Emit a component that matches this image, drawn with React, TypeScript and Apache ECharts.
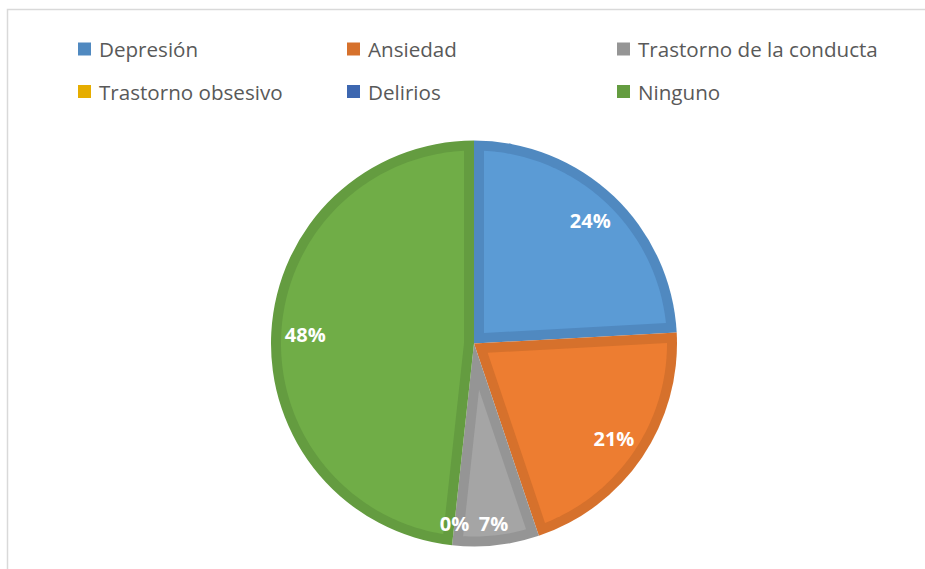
import React, { useEffect, useRef } from 'react';
import * as echarts from 'echarts';

// ---- data ----
const categories = ['Depresión', 'Ansiedad', 'Trastorno de la conducta', 'Trastorno obsesivo', 'Delirios', 'Ninguno'];
const counts = [7, 6, 2, 0, 0, 14];
const fillColors = ['#5B9BD5', '#ED7D31', '#A5A5A5', '#FFC000', '#4472C4', '#70AD47'];
const borderColors = ['#5089C0', '#D6712C', '#959595', '#E6AD00', '#3D67B0', '#649C40'];
// which slices carry a visible label, and which labels sit further out
const labelShown = [true, true, true, true, false, true];
const outerLabelNames = ['Trastorno de la conducta', 'Trastorno obsesivo'];

// ---- layout ----
const CX = 474;
const CY = 343.5;
const R = 203;
const BORDER = 10;
const legendCols = [78, 347, 617];
const legendRows = [38.5, 81];
const FONT = '"Open Sans", "Noto Sans", sans-serif';

export default function App() {
  const ref = useRef<HTMLDivElement>(null);

  useEffect(() => {
    if (!ref.current) return;
    const chart = echarts.init(ref.current, undefined, { renderer: 'svg' });
    const total = counts.reduce((a, b) => a + b, 0);

    let cum = 0;
    const customData = counts.map((v, i) => {
      const start = cum;
      cum += v;
      return { name: categories[i], value: [start, start + v] };
    });

    const legends = categories.map((name, i) => ({
      show: true,
      left: legendCols[i % 3],
      top: legendRows[Math.floor(i / 3)],
      padding: 0,
      itemWidth: 13,
      itemHeight: 13,
      selectedMode: false,
      data: [{ name, icon: 'rect', itemStyle: { color: borderColors[i] } }],
      textStyle: { fontSize: 20.6, color: '#595959', fontFamily: FONT, padding: [0, 0, 0, 3] },
    }));

    const labelStyle = {
      position: 'inside',
      rotate: 0,
      color: '#ffffff',
      fontSize: 20,
      fontWeight: 'bold',
      fontFamily: FONT,
      formatter: (p: any) => Math.round(p.percent) + '%',
    };

    const labelSeries = (inner: number, outer: boolean) => ({
      type: 'pie',
      center: [CX, CY],
      radius: [inner, R],
      startAngle: 90,
      clockwise: true,
      avoidLabelOverlap: false,
      silent: true,
      z: 5,
      itemStyle: { color: 'rgba(0,0,0,0)' },
      emphasis: { disabled: true },
      labelLine: { show: false },
      label: labelStyle,
      data: categories.map((name, i) => ({
        name,
        value: counts[i],
        label: { show: labelShown[i] && outerLabelNames.includes(name) === outer },
      })),
    });

    chart.setOption({
      animation: false,
      backgroundColor: '#ffffff',
      legend: legends,
      polar: { center: [CX, CY], radius: R },
      angleAxis: { type: 'value', min: 0, max: total, startAngle: 90, clockwise: true, show: false },
      radiusAxis: { type: 'value', min: 0, max: R, show: false },
      graphic: [
        {
          type: 'rect',
          silent: true,
          shape: { x: 7.5, y: 9.5, width: 1000, height: 1000 },
          style: { fill: 'none', stroke: '#d9d9d9', lineWidth: 1.5 },
        },
      ],
      series: [
        {
          type: 'pie',
          name: 'base',
          center: [CX, CY],
          radius: [0, R],
          startAngle: 90,
          clockwise: true,
          silent: true,
          z: 1,
          label: { show: false },
          labelLine: { show: false },
          emphasis: { disabled: true },
          data: categories.map((name, i) => ({ name, value: counts[i], itemStyle: { color: borderColors[i] } })),
        },
        {
          type: 'custom',
          name: 'fill',
          coordinateSystem: 'polar',
          silent: true,
          z: 2,
          data: customData,
          renderItem: (params: any, api: any) => {
            const a0 = api.value(0) as number;
            const a1 = api.value(1) as number;
            if (!(a1 > a0)) return { type: 'group', children: [] };
            const c = api.coord([0, 0]);
            const q0 = api.coord([R, a0]);
            const q1 = api.coord([R, a1]);
            const rPx = Math.hypot(q0[0] - c[0], q0[1] - c[1]);
            const t0 = Math.atan2(q0[1] - c[1], q0[0] - c[0]);
            let t1 = Math.atan2(q1[1] - c[1], q1[0] - c[0]);
            while (t1 <= t0 + 1e-9) t1 += Math.PI * 2;
            const alpha = Math.min((t1 - t0) / 2, Math.PI / 2 - 0.01);
            const tm = (t0 + t1) / 2;
            const rho = rPx - BORDER;
            const apex = BORDER / Math.sin(alpha);
            const delta = Math.asin(BORDER / rho);
            const s0 = t0 + delta;
            const s1 = t1 - delta;
            const pts: number[][] = [[c[0] + apex * Math.cos(tm), c[1] + apex * Math.sin(tm)]];
            const n = Math.max(2, Math.ceil((s1 - s0) / (Math.PI / 180)));
            for (let k = 0; k <= n; k++) {
              const th = s0 + ((s1 - s0) * k) / n;
              pts.push([c[0] + rho * Math.cos(th), c[1] + rho * Math.sin(th)]);
            }
            return {
              type: 'polygon',
              shape: { points: pts },
              style: { fill: fillColors[params.dataIndex], stroke: 'none' },
            };
          },
        },
        labelSeries(129, false),
        labelSeries(153, true),
      ],
    });

    return () => chart.dispose();
  }, []);

  return (
    <div
      ref={ref}
      style={{ position: 'absolute', left: 0, top: 0, width: 925, height: 569, background: '#ffffff' }}
    />
  );
}
